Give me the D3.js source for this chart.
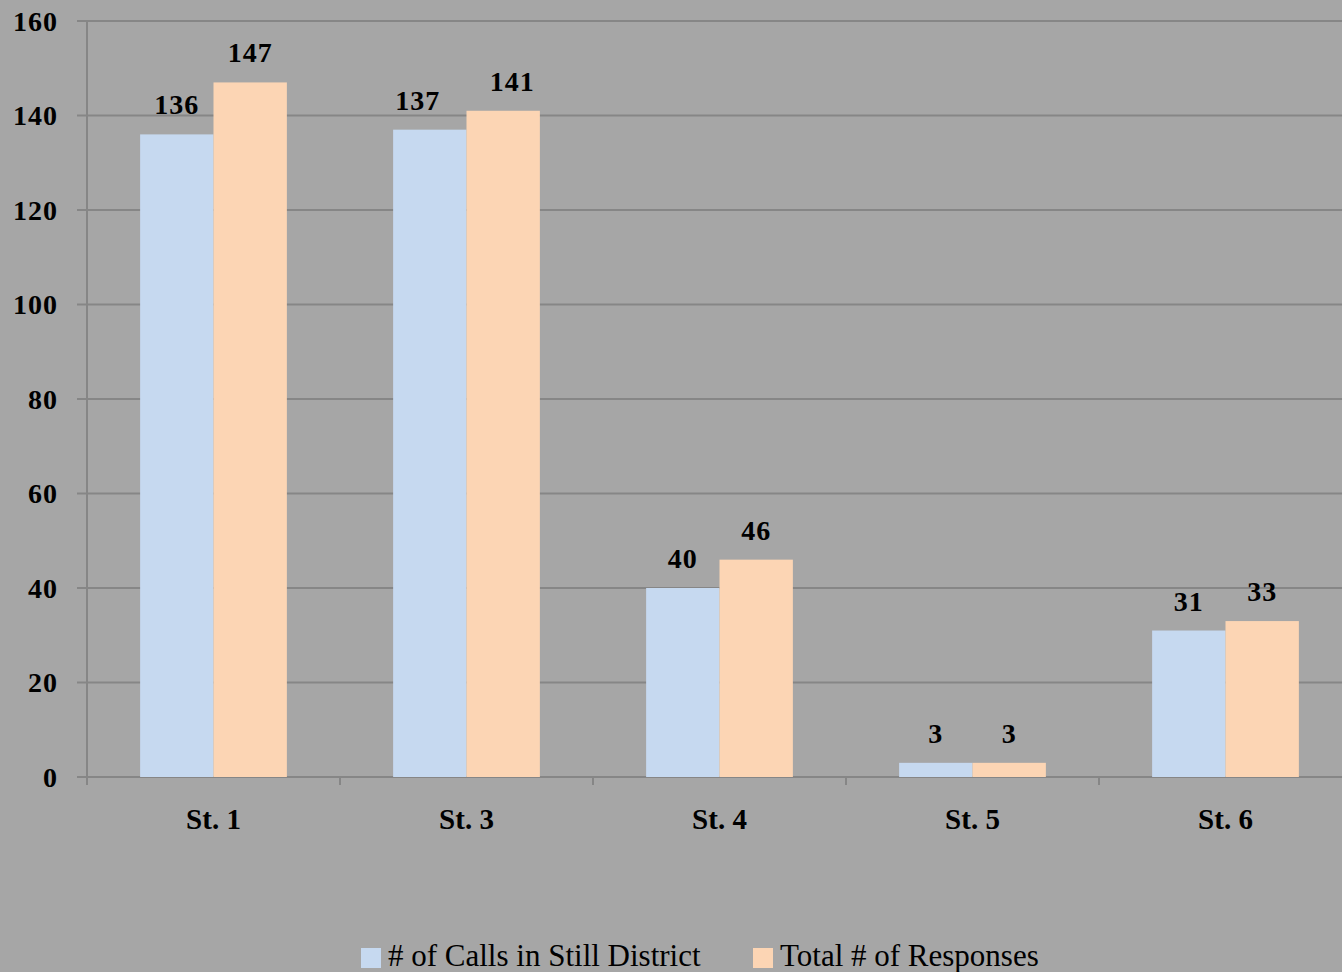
<!DOCTYPE html>
<html>
<head>
<meta charset="utf-8">
<script src="https://cdn.jsdelivr.net/npm/d3@7"></script>
<style>
  html, body { margin: 0; padding: 0; background: #a6a6a6; }
  svg { display: block; }
</style>
</head>
<body>
<svg id="chart" width="1342" height="972"></svg>
<script>
const categories = ["St. 1", "St. 3", "St. 4", "St. 5", "St. 6"];
const seriesNames = ["# of Calls in Still District", "Total # of Responses"];
const callsValues = [136, 137, 40, 3, 31];
const responseValues = [147, 141, 46, 3, 33];
const yTicks = [0, 20, 40, 60, 80, 100, 120, 140, 160];
const colors = ["#c6d9f0", "#fcd5b4"];

(function () {
const svg = d3.select("#chart");
const W = 1342, H = 972;
const font = "'Liberation Serif', 'Times New Roman', serif";

svg.append("rect").attr("width", W).attr("height", H).attr("fill", "#a6a6a6");

const plotLeft = 87, plotRight = 1352, plotTop = 21, plotBottom = 777;

const x = d3.scaleBand().domain(categories).range([plotLeft, plotRight]).paddingInner(0).paddingOuter(0);
const barW = x.bandwidth() * 0.29;
const y = d3.scaleLinear().domain([0, 160]).range([plotBottom, plotTop]);

// horizontal gridlines
svg.append("g").selectAll("line").data(yTicks).join("line")
  .attr("x1", plotLeft - 10).attr("x2", W)
  .attr("y1", d => y(d)).attr("y2", d => y(d))
  .attr("stroke", "#868686").attr("stroke-width", 2);

// y axis line
svg.append("line").attr("x1", plotLeft).attr("x2", plotLeft).attr("y1", plotTop).attr("y2", plotBottom + 8)
  .attr("stroke", "#868686").attr("stroke-width", 2);

// x category tick marks
const bounds = categories.map(c => x(c)).concat([plotRight]);
svg.append("g").selectAll("line").data(bounds).join("line")
  .attr("x1", d => d).attr("x2", d => d)
  .attr("y1", plotBottom).attr("y2", plotBottom + 8)
  .attr("stroke", "#868686").attr("stroke-width", 2);

// y tick labels
svg.append("g").selectAll("text").data(yTicks).join("text")
  .attr("x", 58).attr("y", d => y(d) + 9.5)
  .attr("text-anchor", "end")
  .attr("font-family", font).attr("font-weight", "bold").attr("font-size", 28)
  .attr("letter-spacing", 1)
  .attr("fill", "#000").text(d => d);

// pairs of close-valued tall bars get their labels spread apart a little
function labelShift(i, si) {
  const a = callsValues[i], b = responseValues[i];
  if (a > 100 && Math.abs(a - b) < 6) return si === 0 ? -12 : 9;
  return 0;
}

// bars with value labels
const series = [callsValues, responseValues];
series.forEach((vals, si) => {
  const g = svg.append("g");
  const xs = (c) => x(c) + x.bandwidth() / 2 + (si === 0 ? -barW : 0);
  g.selectAll("rect").data(categories).join("rect")
    .attr("x", c => xs(c))
    .attr("y", (c, i) => y(vals[i]))
    .attr("width", barW)
    .attr("height", (c, i) => y(0) - y(vals[i]))
    .attr("fill", colors[si]);
  g.selectAll("text").data(categories).join("text")
    .attr("x", (c, i) => xs(c) + barW / 2 + labelShift(i, si))
    .attr("y", (c, i) => y(vals[i]) - 20)
    .attr("text-anchor", "middle")
    .attr("font-family", font).attr("font-weight", "bold").attr("font-size", 28)
    .attr("letter-spacing", 1)
    .attr("fill", "#000")
    .text((c, i) => vals[i]);
});

// category labels
svg.append("g").selectAll("text").data(categories).join("text")
  .attr("x", c => x(c) + x.bandwidth() / 2)
  .attr("y", 829)
  .attr("text-anchor", "middle")
  .attr("font-family", font).attr("font-weight", "bold").attr("font-size", 29)
  .attr("fill", "#000").text(c => c);

// legend
const legendItems = [
  { name: seriesNames[0], color: colors[0], x: 361 },
  { name: seriesNames[1], color: colors[1], x: 753 }
];
const lg = svg.append("g");
legendItems.forEach(it => {
  lg.append("rect").attr("x", it.x).attr("y", 948).attr("width", 20).attr("height", 20).attr("fill", it.color);
  lg.append("text").attr("x", it.x + 27).attr("y", 966)
    .attr("font-family", font).attr("font-size", 31).attr("fill", "#000").text(it.name);
});
})();
</script>
</body>
</html>
